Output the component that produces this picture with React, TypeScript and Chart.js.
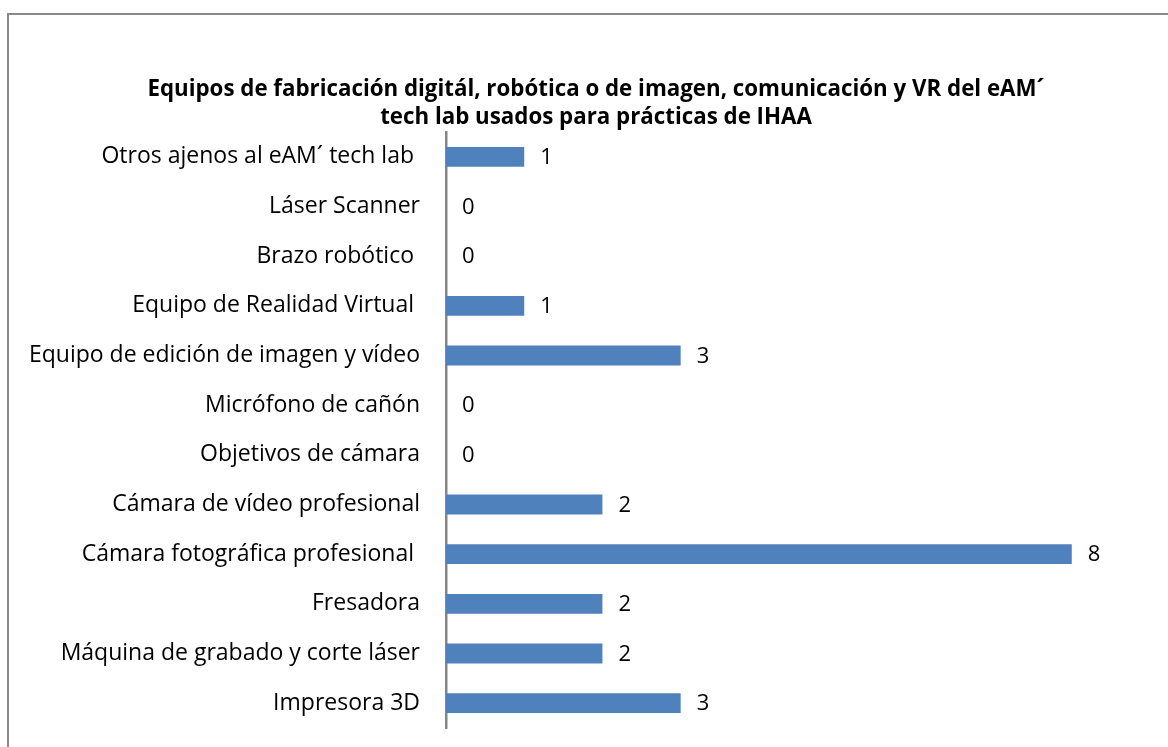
import React, { useEffect, useRef } from "react";
import { Chart, registerables } from "chart.js";

Chart.register(...registerables);

const categories = [
  "Otros ajenos al eAM´ tech lab ",
  "Láser Scanner",
  "Brazo robótico ",
  "Equipo de Realidad Virtual ",
  "Equipo de edición de imagen y vídeo",
  "Micrófono de cañón",
  "Objetivos de cámara",
  "Cámara de vídeo profesional",
  "Cámara fotográfica profesional ",
  "Fresadora",
  "Máquina de grabado y corte láser",
  "Impresora 3D",
];

const values = [1, 0, 0, 1, 3, 0, 0, 2, 8, 2, 2, 3];

const titleLines = [
  "Equipos de fabricación digitál, robótica o de imagen, comunicación y VR del eAM´",
  "tech lab usados para prácticas de IHAA",
];

const FONT = "'Open Sans'";

const valueLabels = {
  id: "valueLabels",
  afterDatasetsDraw(chart: any) {
    const ctx = chart.ctx;
    const meta = chart.getDatasetMeta(0);
    ctx.save();
    ctx.font = `22px ${FONT}`;
    ctx.fillStyle = "#000";
    ctx.textAlign = "left";
    ctx.textBaseline = "middle";
    meta.data.forEach((bar: any, i: number) => {
      ctx.fillText(String(values[i]), bar.x + 16, bar.y + 1);
    });
    ctx.restore();
  },
};

export default function App() {
  const ref = useRef<HTMLCanvasElement | null>(null);

  useEffect(() => {
    if (!ref.current) return;
    const chart = new Chart(ref.current, {
      type: "bar",
      data: {
        labels: categories,
        datasets: [
          {
            data: values,
            backgroundColor: "#4F81BD",
            borderWidth: 0,
            barPercentage: 0.4,
            categoryPercentage: 1,
          },
        ],
      },
      options: {
        indexAxis: "y",
        responsive: false,
        animation: false,
        layout: { padding: { left: 0, right: 0, top: 0, bottom: 27 } },
        plugins: {
          legend: { display: false },
          tooltip: { enabled: false },
          title: {
            display: true,
            text: titleLines,
            color: "#000",
            font: { family: FONT, size: 22.3, weight: "bold", lineHeight: 28 / 22.3 },
            padding: { top: 61, bottom: 0 },
          },
        },
        scales: {
          x: {
            display: false,
            min: 0,
            max: 9,
          },
          y: {
            grid: { display: false, drawTicks: false },
            border: { display: true, color: "#868686", width: 2.5 },
            ticks: {
              color: "#000",
              font: { family: FONT, size: 23 },
              padding: 26,
            },
            afterFit(s: any) {
              s.width = 437;
              s.paddingTop = 0;
              s.paddingBottom = 0;
            },
          },
          y2: {
            type: "linear",
            position: "right",
            display: true,
            grid: { display: false, drawTicks: false },
            border: { display: false },
            ticks: { display: false },
            afterFit(s: any) {
              s.width = 33;
              s.paddingTop = 0;
              s.paddingBottom = 0;
            },
          },
        },
      },
      plugins: [valueLabels],
    });
    return () => chart.destroy();
  }, []);

  return (
    <div
      style={{
        position: "fixed",
        left: 0,
        top: 0,
        width: 1168,
        height: 747,
        overflow: "hidden",
        background: "#fff",
      }}
    >
      <div
        style={{
          position: "absolute",
          left: 7,
          top: 13,
          width: 1180,
          height: 800,
          border: "2px solid #898989",
        }}
      >
        <canvas
          ref={ref}
          width={1174}
          height={740}
          style={{ position: "absolute", left: 0, top: 0, width: 1174, height: 740 }}
        />
      </div>
    </div>
  );
}
